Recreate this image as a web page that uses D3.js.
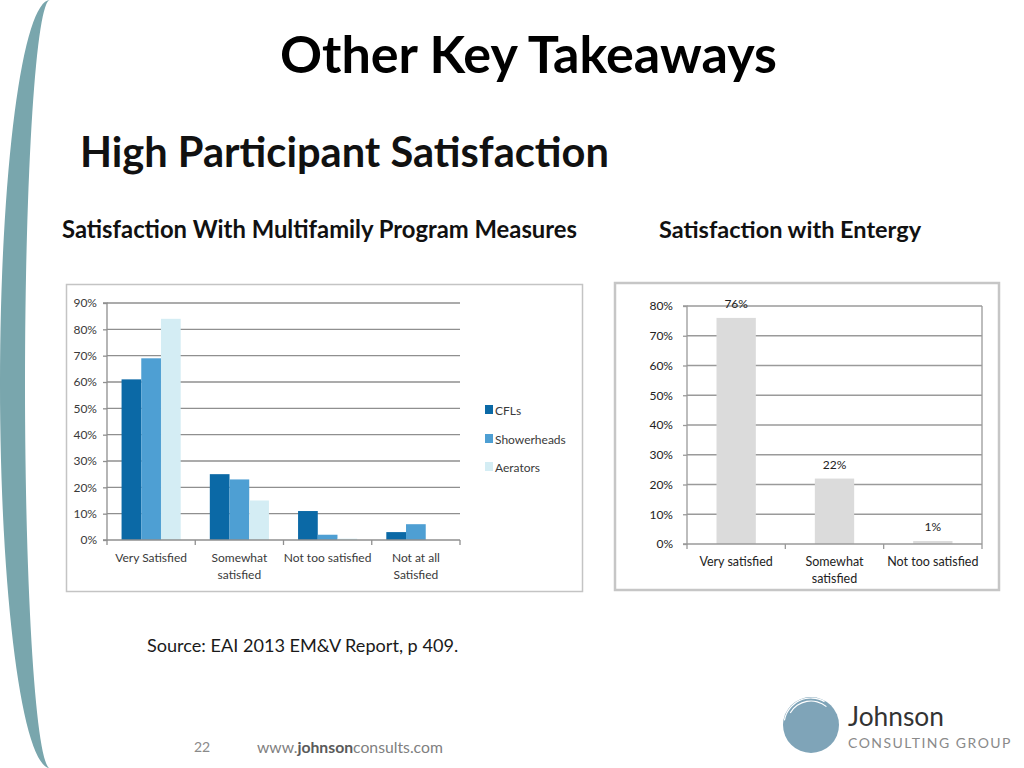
<!DOCTYPE html>
<html><head><meta charset="utf-8">
<script src="https://cdn.jsdelivr.net/npm/d3@7"></script>
<style>
html,body{margin:0;padding:0;background:#fff;}
svg{display:block;font-family:Lato, "Open Sans", sans-serif;}
</style></head>
<body>
<svg id="c" width="1024" height="768"></svg>
<script>
// ---------- DATA ----------
const leftCategories = ["Very Satisfied", "Somewhat satisfied", "Not too satisfied", "Not at all Satisfied"];
const leftCategoryLines = [["Very Satisfied"], ["Somewhat", "satisfied"], ["Not too satisfied"], ["Not at all", "Satisfied"]];
const leftSeries = ["CFLs", "Showerheads", "Aerators"];
const cflValues = [61, 25, 11, 3];
const showerheadValues = [69, 23, 2, 6];
const aeratorValues = [84, 15, 0.5, 0];
const leftTicks = [0, 10, 20, 30, 40, 50, 60, 70, 80, 90];

const rightCategories = ["Very satisfied", "Somewhat satisfied", "Not too satisfied"];
const rightCategoryLines = [["Very satisfied"], ["Somewhat", "satisfied"], ["Not too satisfied"]];
const rightValues = [76, 22, 1];
const rightLabels = ["76%", "22%", "1%"];
const rightTicks = [0, 10, 20, 30, 40, 50, 60, 70, 80];

// ---------- STYLE ----------
const seriesColors = ["#0b69a6", "#4e9fd3", "#d4edf4"];
const svg = d3.select("#c");

function fitText(sel, w) {
  const node = sel.node();
  let fs = parseFloat(sel.attr("font-size"));
  for (let i = 0; i < 4; i++) {
    const cw = node.getComputedTextLength();
    if (cw > 0) { fs = fs * w / cw; sel.attr("font-size", fs); }
  }
}

// Decorative crescent on the left
svg.append("path")
  .attr("d", "M50,0 A50,384 0 0 0 50,768 A25,384 0 0 1 50,0 Z")
  .attr("fill", "#79a6ad");

// Titles
const t1 = svg.append("text").attr("x", 280).attr("y", 73).attr("font-size", 50)
  .attr("font-weight", "bold").attr("fill", "#000").text("Other Key Takeaways");
fitText(t1, 497);
const t2 = svg.append("text").attr("x", 80).attr("y", 167).attr("font-size", 36)
  .attr("font-weight", "bold").attr("fill", "#111").text("High Participant Satisfaction");
fitText(t2, 529);
const t3 = svg.append("text").attr("x", 62).attr("y", 238).attr("font-size", 20)
  .attr("font-weight", "bold").attr("fill", "#111").text("Satisfaction With Multifamily Program Measures");
fitText(t3, 515);
const t4 = svg.append("text").attr("x", 659).attr("y", 238).attr("font-size", 20)
  .attr("font-weight", "bold").attr("fill", "#111").text("Satisfaction with Entergy");
fitText(t4, 262);

// ---------- LEFT CHART ----------
svg.append("rect").attr("x", 66.5).attr("y", 284.5).attr("width", 516).attr("height", 307)
  .attr("fill", "#fff").attr("stroke", "#c4c4c4").attr("stroke-width", 1.5);

const L = {x0: 107, x1: 460, y0: 540, y1: 303};
const lx = d3.scaleBand().domain(leftCategories).range([L.x0, L.x1]).padding(0);
const ly = d3.scaleLinear().domain([0, 90]).range([L.y0, L.y1]);
const bw = lx.bandwidth();
const lxs = d3.scaleBand().domain(leftSeries).range([bw * 0.165, bw * 0.835]).padding(0);

const lg = svg.append("g");
lg.selectAll("line.grid").data(leftTicks.filter(d => d > 0)).join("line")
  .attr("x1", L.x0).attr("x2", L.x1).attr("y1", d => ly(d)).attr("y2", d => ly(d))
  .attr("stroke", "#8f8f8f").attr("stroke-width", 1.3);

const leftData = [cflValues, showerheadValues, aeratorValues];
leftSeries.forEach((s, si) => {
  lg.append("g").selectAll("rect").data(leftCategories).join("rect")
    .attr("x", c => lx(c) + lxs(s))
    .attr("width", lxs.bandwidth())
    .attr("y", (c, i) => ly(leftData[si][i]))
    .attr("height", (c, i) => ly(0) - ly(leftData[si][i]))
    .attr("fill", seriesColors[si]);
});

const lyAxis = lg.append("g").attr("transform", `translate(${L.x0},0)`)
  .call(d3.axisLeft(ly).tickValues(leftTicks).tickFormat(d => d + "%").tickSize(4).tickPadding(6));
lyAxis.select(".domain").attr("stroke", "#8f8f8f").attr("stroke-width", 1.3).attr("d", `M-4,${L.y1}H0V${L.y0}H-4`);
lyAxis.selectAll(".tick line").attr("stroke", "#8f8f8f").attr("stroke-width", 1.3);
lyAxis.selectAll(".tick text").attr("font-size", 12).attr("fill", "#3a3a3a").attr("font-family", "Lato");

// x axis
lg.append("line").attr("x1", L.x0).attr("x2", L.x1).attr("y1", L.y0).attr("y2", L.y0)
  .attr("stroke", "#8f8f8f").attr("stroke-width", 1.3);
const lBounds = leftCategories.map(c => lx(c)).concat([L.x1]);
lg.selectAll("line.xt").data(lBounds).join("line")
  .attr("x1", d => d).attr("x2", d => d).attr("y1", L.y0).attr("y2", L.y0 + 5)
  .attr("stroke", "#8f8f8f").attr("stroke-width", 1.3);
leftCategories.forEach((c, i) => {
  const t = lg.append("text").attr("x", lx(c) + bw / 2).attr("text-anchor", "middle")
    .attr("font-size", 12).attr("fill", "#3a3a3a");
  leftCategoryLines[i].forEach((ln, j) => {
    t.append("tspan").attr("x", lx(c) + bw / 2).attr("y", 562 + j * 17).text(ln);
  });
});

// legend
leftSeries.forEach((s, i) => {
  const yy = [410, 439, 467][i];
  lg.append("rect").attr("x", 485).attr("y", yy - 5).attr("width", 8).attr("height", 9).attr("fill", seriesColors[i]);
  lg.append("text").attr("x", 495).attr("y", yy + 4.5).attr("font-size", 12).attr("fill", "#3a3a3a").text(s);
});

// ---------- RIGHT CHART ----------
svg.append("rect").attr("x", 615).attr("y", 283).attr("width", 384).attr("height", 307)
  .attr("fill", "#fff").attr("stroke", "#c6c6c6").attr("stroke-width", 2.5);

const R = {x0: 687, x1: 982, y0: 544, y1: 306};
const rx = d3.scaleBand().domain(rightCategories).range([R.x0, R.x1]).padding(0);
const ry = d3.scaleLinear().domain([0, 80]).range([R.y0, R.y1]);
const rbw = rx.bandwidth();
const rg = svg.append("g");

rg.selectAll("line.grid").data(rightTicks.filter(d => d > 0)).join("line")
  .attr("x1", R.x0).attr("x2", R.x1).attr("y1", d => ry(d)).attr("y2", d => ry(d))
  .attr("stroke", "#9a9a9a").attr("stroke-width", 1.3);
rg.append("line").attr("x1", R.x1).attr("x2", R.x1).attr("y1", R.y1).attr("y2", R.y0)
  .attr("stroke", "#9a9a9a").attr("stroke-width", 1.3);

rg.selectAll("rect.bar").data(rightCategories).join("rect")
  .attr("x", c => rx(c) + rbw * 0.3).attr("width", rbw * 0.4)
  .attr("y", (c, i) => ry(rightValues[i]))
  .attr("height", (c, i) => ry(0) - ry(rightValues[i]))
  .attr("fill", "#dbdbdb");

rg.selectAll("text.lab").data(rightCategories).join("text")
  .attr("x", c => rx(c) + rbw / 2).attr("y", (c, i) => ry(rightValues[i]) - 10)
  .attr("text-anchor", "middle").attr("font-size", 12).attr("fill", "#222")
  .text((c, i) => rightLabels[i]);

const ryAxis = rg.append("g").attr("transform", `translate(${R.x0},0)`)
  .call(d3.axisLeft(ry).tickValues(rightTicks).tickFormat(d => d + "%").tickSize(4).tickPadding(10));
ryAxis.select(".domain").attr("stroke", "#9a9a9a").attr("stroke-width", 1.3).attr("d", `M-4,${R.y1}H0V${R.y0}H-4`);
ryAxis.selectAll(".tick line").attr("stroke", "#9a9a9a").attr("stroke-width", 1.3);
ryAxis.selectAll(".tick text").attr("font-size", 12).attr("fill", "#222").attr("font-family", "Lato");

rg.append("line").attr("x1", R.x0).attr("x2", R.x1).attr("y1", R.y0).attr("y2", R.y0)
  .attr("stroke", "#9a9a9a").attr("stroke-width", 1.3);
const rBounds = rightCategories.map(c => rx(c)).concat([R.x1]);
rg.selectAll("line.xt").data(rBounds).join("line")
  .attr("x1", d => d).attr("x2", d => d).attr("y1", R.y0).attr("y2", R.y0 + 5)
  .attr("stroke", "#9a9a9a").attr("stroke-width", 1.3);
rightCategories.forEach((c, i) => {
  const t = rg.append("text").attr("text-anchor", "middle").attr("font-size", 12.5).attr("fill", "#222");
  rightCategoryLines[i].forEach((ln, j) => {
    t.append("tspan").attr("x", rx(c) + rbw / 2).attr("y", 566 + j * 17).text(ln);
  });
});

// ---------- FOOTER ----------
const src = svg.append("text").attr("x", 147).attr("y", 652).attr("font-size", 17).attr("fill", "#1a1a1a")
  .text("Source: EAI 2013 EM&V Report, p 409.");
fitText(src, 311);

svg.append("text").attr("x", 202).attr("y", 752).attr("text-anchor", "middle").attr("font-size", 14)
  .attr("fill", "#8a8a8a").text("22");
const url = svg.append("text").attr("x", 257).attr("y", 753).attr("font-size", 15).attr("fill", "#808080");
url.append("tspan").text("www.");
url.append("tspan").attr("font-weight", "bold").attr("fill", "#5a5a5a").text("johnson");
url.append("tspan").text("consults.com");
fitText(url, 186);

// Logo
svg.append("circle").attr("cx", 811).attr("cy", 725).attr("r", 28).attr("fill", "#7fa4b8");
[[27, -80, 30], [24, -60, 40], [30, -95, 10]].forEach(([r, a0, a1]) => {
  const arc = d3.arc().innerRadius(r - 0.6).outerRadius(r + 0.6)
    .startAngle(a0 * Math.PI / 180).endAngle(a1 * Math.PI / 180);
  svg.append("path").attr("transform", "translate(811,725)").attr("d", arc()).attr("fill", "#fff");
});
const j1 = svg.append("text").attr("x", 848).attr("y", 726).attr("font-size", 30).attr("fill", "#333")
  .text("Johnson");
fitText(j1, 96);
const j2 = svg.append("text").attr("x", 848).attr("y", 748).attr("font-size", 17).attr("fill", "#8a8a8a")
  .attr("letter-spacing", 1.5).text("CONSULTING GROUP");
fitText(j2, 164);
</script>
</body></html>
